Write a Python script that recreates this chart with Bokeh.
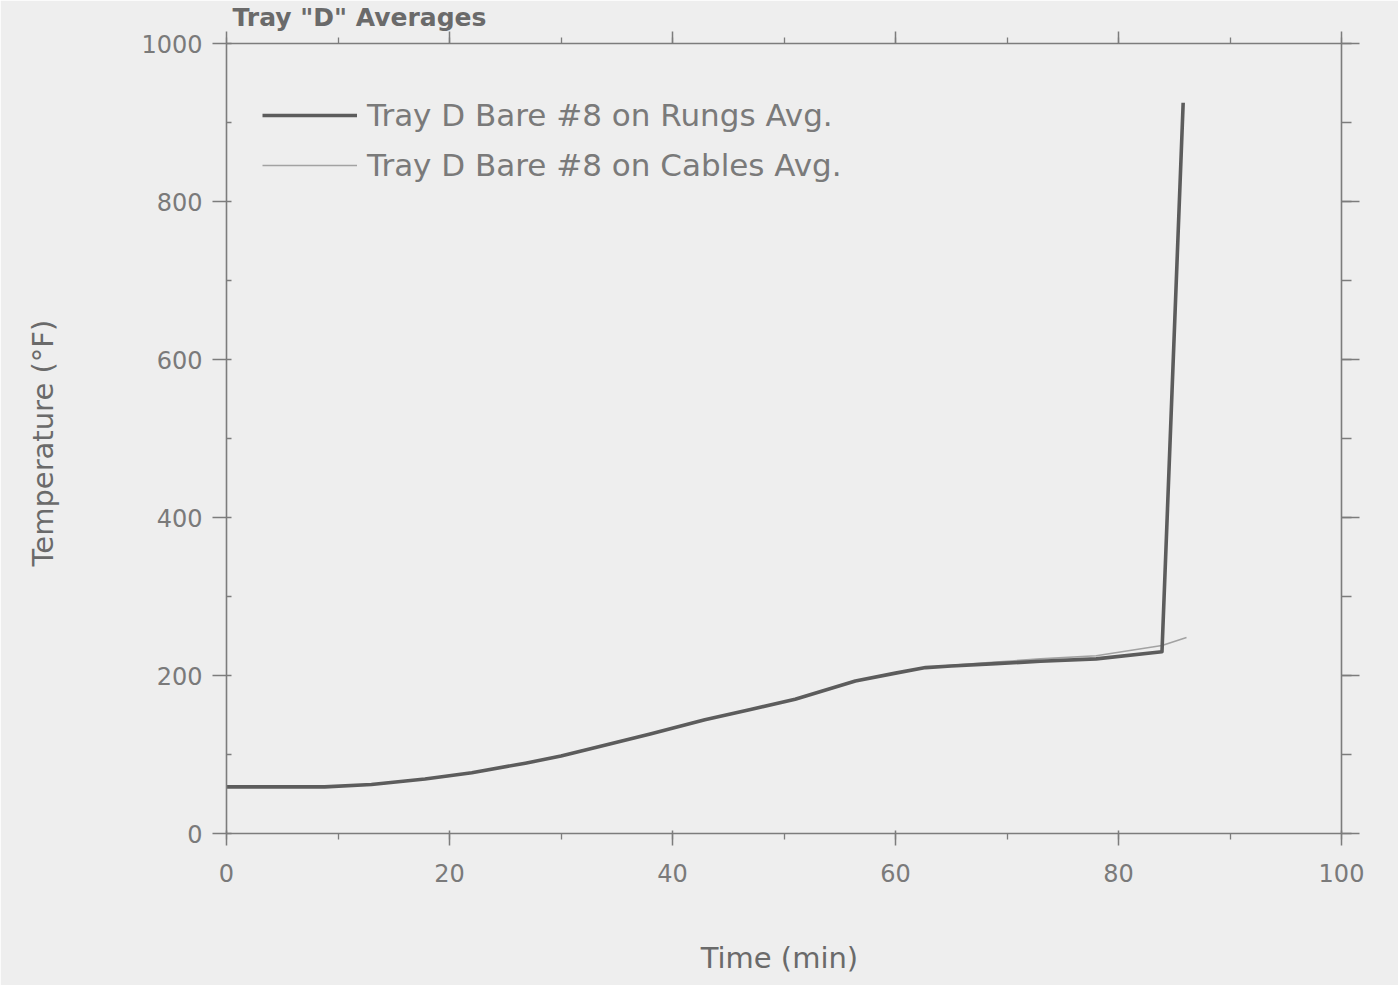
from bokeh.plotting import figure
from bokeh.models import (Range1d, LinearAxis, SingleIntervalTicker,
                          Legend, LegendItem, ColumnDataSource, CustomJSTickFormatter)
from bokeh.embed import file_html
from bokeh.resources import INLINE

# ---- data ----
title_text = 'Tray "D" Averages'
x_label = "Time  (min)"
y_label = "Temperature  (°F)"

rungs_name = "Tray D Bare #8 on Rungs Avg."
rungs_time = [0, 4, 8.8, 13, 17.8, 22, 26.8, 30, 33.1, 38, 42.9, 47, 51.0, 56.4,
              60, 62.7, 65, 69.0, 73, 78.0, 83.9, 85.8]
rungs_temp = [59, 59, 59, 62, 69, 77, 89, 98, 109, 126, 144, 157, 170, 193,
              203, 210, 212, 215, 218, 221, 230, 925]

cables_name = "Tray D Bare #8 on Cables Avg."
cables_time = [0, 4, 8.8, 13, 17.8, 22, 26.8, 30, 33.1, 38, 42.9, 47, 51.0, 56.4,
               60, 62.7, 65, 69.0, 73, 78.0, 83.9, 86.1]
cables_temp = [59, 59, 59, 62, 69, 77, 89, 98, 109, 126, 144, 157, 170, 193,
               203, 210, 213, 217, 221, 225, 238, 248]

x_ticks_major = 20
y_ticks_major = 200

BG = "#eeeeee"
AX = "#7c7c7c"
TXT = "#7a7a7a"
FONT = "DejaVu Sans"

p = figure(width=1398, height=985, output_backend="svg", toolbar_location=None,
           x_range=Range1d(0, 100), y_range=Range1d(0, 1000),
           x_axis_location=None, y_axis_location=None,
           min_border_left=226, min_border_right=57,
           min_border_top=40, min_border_bottom=152)
p.background_fill_color = BG
p.border_fill_color = BG
p.outline_line_color = None
p.grid.visible = False

p.title.text = title_text
p.title.align = "left"
p.title.offset = 6
p.title.standoff = 0
p.title.text_font = FONT
p.title.text_font_size = "25px"
p.title.text_font_style = "bold"
p.title.text_color = "#6a6a6a"


def style(ax, out_major, in_major, out_minor, in_minor, labels=True):
    ax.axis_line_color = AX
    ax.axis_line_width = 1.6
    ax.major_tick_line_color = AX
    ax.minor_tick_line_color = AX
    ax.major_tick_line_width = 1.5
    ax.minor_tick_line_width = 1.3
    ax.major_tick_out = out_major
    ax.major_tick_in = in_major
    ax.minor_tick_out = out_minor
    ax.minor_tick_in = in_minor
    ax.major_label_text_color = TXT
    ax.major_label_text_font = FONT
    ax.major_label_text_font_size = "24px"
    if not labels:
        ax.formatter = CustomJSTickFormatter(code="return ''")
        ax.major_label_standoff = 0
    ax.axis_label_text_color = "#6a6a6a"
    ax.axis_label_text_font = FONT
    ax.axis_label_text_font_size = "29px"
    ax.axis_label_text_font_style = "normal"


xb = LinearAxis(ticker=SingleIntervalTicker(interval=x_ticks_major, num_minor_ticks=2),
                axis_label=x_label)
style(xb, 12, 3, 6, 0)
xb.major_label_standoff = 18
xb.axis_label_standoff = 56
p.add_layout(xb, "below")

yl = LinearAxis(ticker=SingleIntervalTicker(interval=y_ticks_major, num_minor_ticks=2),
                axis_label=y_label)
style(yl, 14, 0, 0, 5)
yl.major_label_standoff = 10
yl.axis_label_standoff = 78
p.add_layout(yl, "left")

xt = LinearAxis(ticker=SingleIntervalTicker(interval=x_ticks_major, num_minor_ticks=2))
style(xt, 12, 0, 6, 0, labels=False)
p.add_layout(xt, "above")

yr = LinearAxis(ticker=SingleIntervalTicker(interval=y_ticks_major, num_minor_ticks=2))
style(yr, 18, 0, 10, 0, labels=False)
p.add_layout(yr, "right")

src_r = ColumnDataSource(dict(x=rungs_time, y=rungs_temp))
src_c = ColumnDataSource(dict(x=cables_time, y=cables_temp))

r_c = p.line("x", "y", source=src_c, line_color="#a2a2a2", line_width=1.6)
r_r = p.line("x", "y", source=src_r, line_color="#5c5c5c", line_width=3.6,
             line_join="round")

legend = Legend(items=[LegendItem(label=rungs_name, renderers=[r_r]),
                       LegendItem(label=cables_name, renderers=[r_c])],
                location=(36, 643))
legend.background_fill_alpha = 0
legend.border_line_color = None
legend.margin = 0
legend.padding = 0
legend.spacing = 0
legend.glyph_width = 95
legend.glyph_height = 50
legend.label_height = 50
legend.label_standoff = 10
legend.label_text_font = FONT
legend.label_text_font_size = "31px"
legend.label_text_color = TXT
p.add_layout(legend, "center")

open("out.html", "w").write(file_html(p, INLINE))
